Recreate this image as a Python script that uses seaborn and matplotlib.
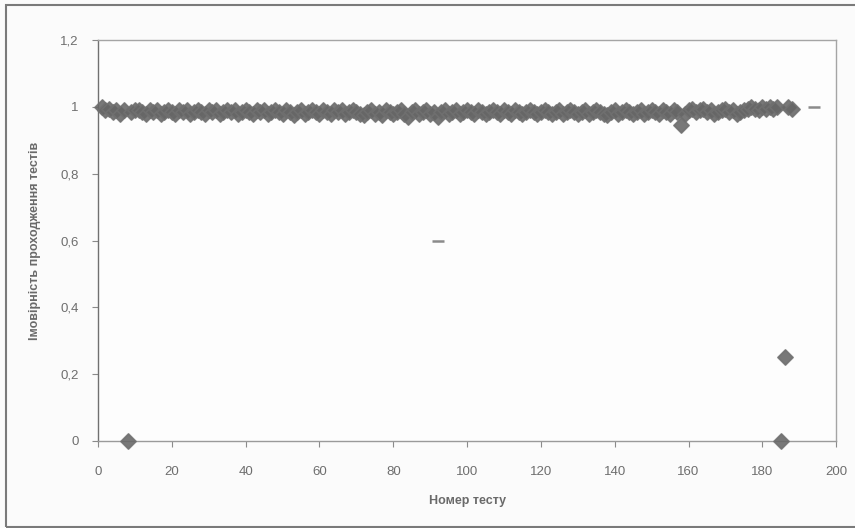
import matplotlib
matplotlib.use("Agg")
import matplotlib.pyplot as plt
import seaborn as sns
import pandas as pd
from matplotlib.patches import Rectangle

test_numbers = list(range(1, 189))
pass_prob = [
    1.0, 0.99, 0.995, 0.985, 0.99, 0.98, 0.99, 0.0, 0.985, 0.99,
    0.99, 0.985, 0.98, 0.99, 0.985, 0.99, 0.98, 0.985, 0.99, 0.985,
    0.98, 0.99, 0.985, 0.99, 0.98, 0.985, 0.99, 0.985, 0.98, 0.99,
    0.985, 0.99, 0.98, 0.985, 0.99, 0.985, 0.99, 0.98, 0.985, 0.99,
    0.985, 0.98, 0.99, 0.985, 0.99, 0.98, 0.985, 0.99, 0.985, 0.98,
    0.99, 0.985, 0.975, 0.985, 0.99, 0.98, 0.985, 0.99, 0.985, 0.98,
    0.99, 0.985, 0.98, 0.99, 0.985, 0.99, 0.98, 0.985, 0.99, 0.985,
    0.98, 0.975, 0.985, 0.99, 0.98, 0.985, 0.975, 0.99, 0.985, 0.98,
    0.985, 0.99, 0.98, 0.97, 0.985, 0.99, 0.98, 0.985, 0.99, 0.98,
    0.985, 0.97, 0.985, 0.99, 0.98, 0.985, 0.99, 0.98, 0.985, 0.99,
    0.985, 0.98, 0.99, 0.985, 0.98, 0.985, 0.99, 0.985, 0.98, 0.99,
    0.985, 0.98, 0.99, 0.985, 0.98, 0.985, 0.99, 0.985, 0.98, 0.985,
    0.99, 0.985, 0.98, 0.985, 0.99, 0.98, 0.985, 0.99, 0.985, 0.98,
    0.985, 0.99, 0.98, 0.985, 0.99, 0.985, 0.98, 0.975, 0.985, 0.99,
    0.98, 0.985, 0.99, 0.985, 0.98, 0.985, 0.99, 0.98, 0.985, 0.99,
    0.985, 0.98, 0.99, 0.985, 0.98, 0.99, 0.985, 0.945, 0.98, 0.99,
    0.995, 0.985, 0.99, 0.995, 0.985, 0.99, 0.98, 0.985, 0.99, 0.995,
    0.985, 0.99, 0.98, 0.985, 0.99, 0.995, 1.0, 0.995, 0.99, 1.0,
    0.995, 1.0, 0.995, 1.0, 0.0, 0.25, 1.0, 0.995,
]
stray_x = [194, 92]
stray_y = [1.0, 0.6]

x_ticks = [0, 20, 40, 60, 80, 100, 120, 140, 160, 180, 200]
y_ticks = [0, 0.2, 0.4, 0.6, 0.8, 1.0, 1.2]
y_tick_labels = ["0", "0,2", "0,4", "0,6", "0,8", "1", "1,2"]
x_label = "Номер тесту"
y_label = "Імовірність проходження тестів"

sns.set_theme(style="white")
plt.rcParams["font.family"] = ["Liberation Sans", "DejaVu Sans"]

df = pd.DataFrame({"test": test_numbers, "p": pass_prob})

fig = plt.figure(figsize=(8.55, 5.28), dpi=100)
fig.patch.set_facecolor("#fbfbfb")
ax = fig.add_axes([0.1146, 0.165, 0.978 - 0.1146, 0.924 - 0.165])
ax.set_facecolor("#fdfdfd")

sns.scatterplot(data=df, x="test", y="p", marker="D", s=60, color="#666666",
                edgecolor="#707070", linewidth=1.2, alpha=0.88, ax=ax, legend=False,
                clip_on=False, zorder=3)
ax.scatter(stray_x, stray_y, marker="_", s=70, color="#777777", linewidths=1.8, alpha=0.85)

ax.set_xlim(0, 200)
ax.set_ylim(0, 1.2)
ax.set_xticks(x_ticks)
ax.set_xticklabels([str(t) for t in x_ticks])
ax.set_yticks(y_ticks)
ax.set_yticklabels(y_tick_labels)
ax.tick_params(axis="x", which="both", direction="out", length=4, width=0.8,
               color="#8a8a8a", labelcolor="#6e6e6e", labelsize=9.5, pad=14,
               bottom=True)
ax.tick_params(axis="y", which="both", direction="out", length=4, width=0.8,
               color="#8a8a8a", labelcolor="#6e6e6e", labelsize=9.5, pad=10,
               left=True)
for side, sp in ax.spines.items():
    sp.set_color("#a5a5a5")
    sp.set_linewidth(1.0)
ax.spines["left"].set_color("#707070")
ax.spines["bottom"].set_color("#9a9a9a")

ax.set_xlabel(x_label, fontsize=9, fontweight="bold", color="#6a6a6a", labelpad=12)
ax.set_ylabel(y_label, fontsize=9, fontweight="bold", color="#6a6a6a", labelpad=14)

# chart-area border
fig.add_artist(Rectangle((6 / 855, 1 / 528), 1.0, 1 - 6 / 528, transform=fig.transFigure,
                         fill=False, edgecolor="#7a7a7a", linewidth=1.5))

fig.savefig("out.png", dpi=100, facecolor=fig.get_facecolor())
